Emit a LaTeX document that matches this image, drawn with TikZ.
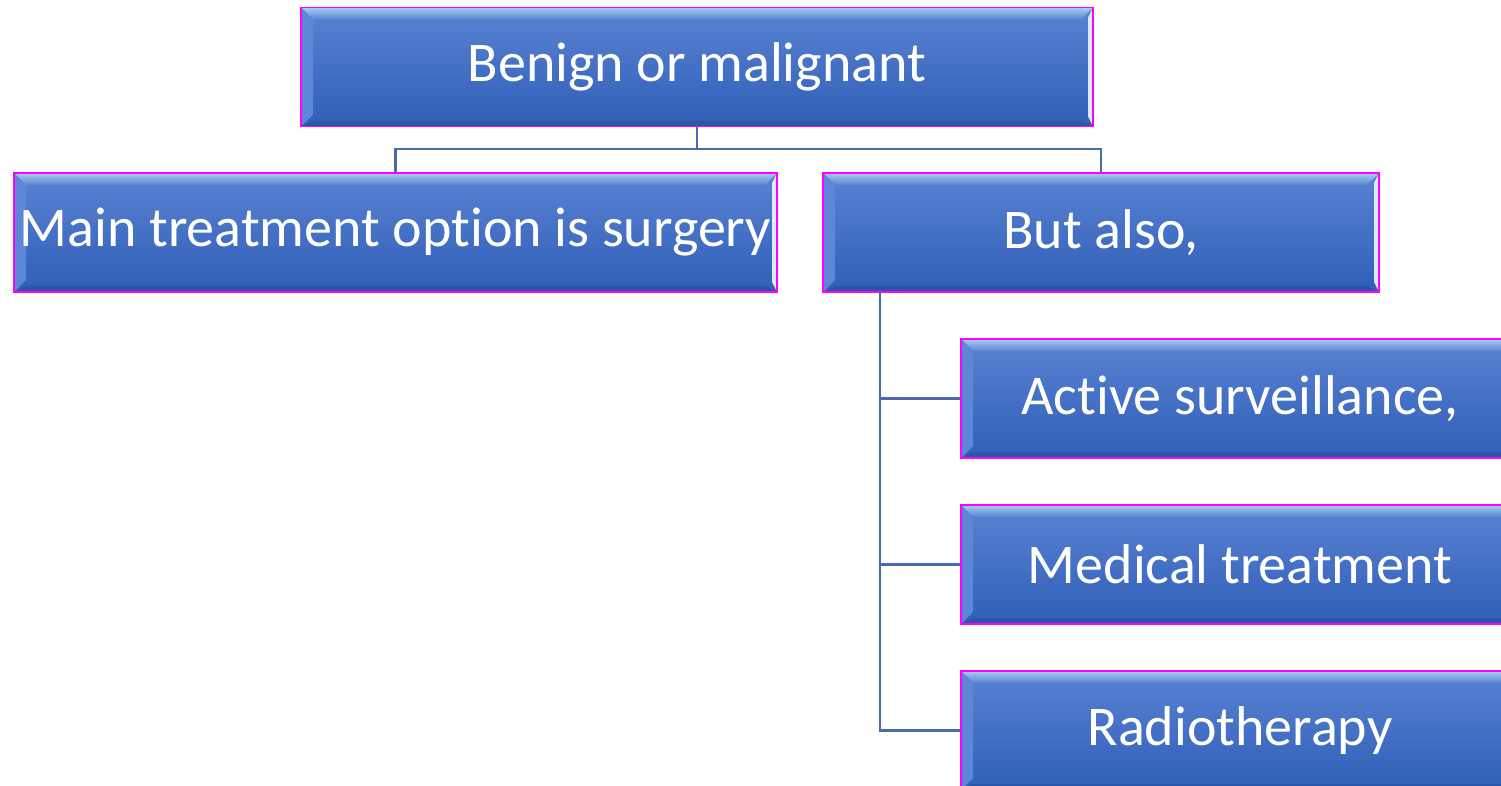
\documentclass[tikz,border=0pt]{standalone}
\usepackage{fontspec}
\setmainfont{Carlito}[Ligatures=NoCommon]
\definecolor{facetop}{HTML}{5A82D2}
\definecolor{facebot}{HTML}{2F5FB8}
\definecolor{bevlight}{HTML}{A8CCF2}
\definecolor{bevleft}{HTML}{5C86D6}
\definecolor{bevright}{HTML}{D8ECFF}
\definecolor{bevbot}{HTML}{2A56A8}
\definecolor{edge}{HTML}{FF00FF}
\definecolor{conn}{HTML}{4A6AA8}
\tikzset{
  boxnode/.style={rectangle, draw=edge, line width=1.6pt, top color=facetop, bottom color=facebot,
    text=white, font=\fontsize{56}{64}\selectfont, inner sep=0pt,
    minimum height=119pt,
    path picture={
      \coordinate (nw) at (path picture bounding box.north west);
      \coordinate (ne) at (path picture bounding box.north east);
      \coordinate (sw) at (path picture bounding box.south west);
      \coordinate (se) at (path picture bounding box.south east);
      \shade[top color=bevlight, bottom color=facetop] (nw) -- (ne) -- ([shift={(-12pt,-12pt)}]ne) -- ([shift={(12pt,-12pt)}]nw) -- cycle;
      \fill[bevleft] (nw) -- ([shift={(12pt,-12pt)}]nw) -- ([shift={(12pt,12pt)}]sw) -- (sw) -- cycle;
      \fill[bevbot] (sw) -- ([shift={(12pt,6pt)}]sw) -- ([shift={(-12pt,6pt)}]se) -- (se) -- cycle;
      \fill[bevright] (ne) -- ([shift={(-5pt,-10pt)}]ne) -- ([shift={(-5pt,10pt)}]se) -- (se) -- cycle;
    }},
  connline/.style={draw=conn, line width=2.6pt}
}
\begin{document}
\begin{tikzpicture}[x=1pt,y=-1pt]
\useasboundingbox (0,0) rectangle (1501,785);
\node[boxnode, minimum width=792pt] (top) at (697,67) {Benign or malignant};
\node[boxnode, minimum width=763pt] (main) at (395.5,232.5) {Main treatment option is surgery};
\node[boxnode, minimum width=556pt] (butalso) at (1101,232.5) {But also,};
\node[boxnode, minimum width=558pt] (active) at (1240,398.5) {Active surveillance,};
\node[boxnode, minimum width=558pt] (medical) at (1240,564.5) {Medical treatment};
\node[boxnode, minimum width=558pt] (radio) at (1240,730.5) {Radiotherapy};
\coordinate (j) at (697,149);
\coordinate (bs) at (880,292);
\draw[connline] (top.south) -- (j) -| (main.north);
\draw[connline] (j) -| (butalso.north);
\draw[connline] (bs) |- (active.west);
\draw[connline] (bs) |- (medical.west);
\draw[connline] (bs) |- (radio.west);
\end{tikzpicture}
\end{document}
